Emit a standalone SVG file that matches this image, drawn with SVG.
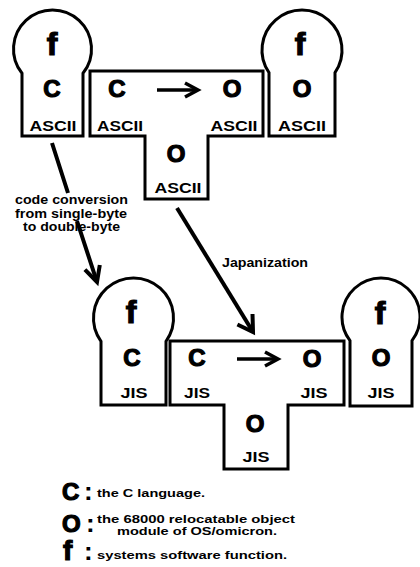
<svg xmlns="http://www.w3.org/2000/svg" width="420" height="567" viewBox="0 0 420 567">
<defs>
<style>
.shape{fill:none;stroke:#000;stroke-width:3;stroke-linejoin:miter}
.line{fill:none;stroke:#000;stroke-width:4;stroke-linecap:butt}
.head{fill:none;stroke:#000;stroke-width:4;stroke-linejoin:miter}
.sm{fill:none;stroke:#000;stroke-width:3.5}
text{font-family:"Liberation Sans",Arial,sans-serif;font-weight:bold;fill:#000}
.big{font-size:24px;text-anchor:middle;stroke:#000;stroke-width:1.2}
.ff{font-size:32px;text-anchor:middle;stroke:#000;stroke-width:1.2}
.lab{font-size:14px;text-anchor:middle}
.note{font-size:12px;text-anchor:middle}
.leg{font-size:11.5px}
.legL{font-size:24px;stroke:#000;stroke-width:1.2}
.col{font-size:26px}
</style>
</defs>
<rect width="420" height="567" fill="#fff"/>

<g id="connectors">
<path class="line" d="M52 143 L68 193 M77 221 L97 282"/>
<polyline class="head" points="84.9,269.6 97,282 99.8,265"/>
<path class="line" d="M177 208 L253 332"/>
<polyline class="head" points="237.4,324.5 253,332 252.5,314"/>
</g>

<g id="keyhole-top-left">
<path class="shape" d="M22 136 V73.3 A39 39 0 1 1 83 73.3 V136 Z"/>
<text class="ff" x="52" y="55">f</text>
<text class="big" x="52" y="97">C</text>
<text class="lab" x="53" y="131" textLength="47" lengthAdjust="spacingAndGlyphs">ASCII</text>
</g>

<g id="t-top">
<path class="shape" d="M90 71 H263 V136 H208 V199 H145 V136 H90 Z"/>
<text class="big" x="117" y="97">C</text>
<line class="sm" x1="157" y1="90" x2="197" y2="90"/>
<polyline class="sm" points="185,83 198,90 185,97"/>
<text class="big" x="232" y="97">O</text>
<text class="lab" x="120" y="131" textLength="46" lengthAdjust="spacingAndGlyphs">ASCII</text>
<text class="lab" x="234" y="131" textLength="47" lengthAdjust="spacingAndGlyphs">ASCII</text>
<text class="big" x="176" y="162">O</text>
<text class="lab" x="178" y="193" textLength="47" lengthAdjust="spacingAndGlyphs">ASCII</text>
</g>

<g id="keyhole-top-right">
<path class="shape" d="M269 136 V72.6 A40 40 0 1 1 335 72.6 V136 Z"/>
<text class="ff" x="300" y="55">f</text>
<text class="big" x="302" y="97">O</text>
<text class="lab" x="302" y="131" textLength="48" lengthAdjust="spacingAndGlyphs">ASCII</text>
</g>

<g id="label-conversion">
<text class="note" x="71.5" y="204" textLength="113" lengthAdjust="spacingAndGlyphs">code conversion</text>
<text class="note" x="71" y="218" textLength="112" lengthAdjust="spacingAndGlyphs">from single-byte</text>
<text class="note" x="71.5" y="231" textLength="97" lengthAdjust="spacingAndGlyphs">to double-byte</text>
</g>

<g id="label-japanization">
<text class="note" x="265" y="267" textLength="86" lengthAdjust="spacingAndGlyphs">Japanization</text>
</g>

<g id="keyhole-bottom-left">
<path class="shape" d="M101 405 V341.3 A40 40 0 1 1 166 341.3 V405 Z"/>
<text class="ff" x="131" y="323">f</text>
<text class="big" x="132" y="366">C</text>
<text class="lab" x="134" y="398" textLength="27" lengthAdjust="spacingAndGlyphs">JIS</text>
</g>

<g id="t-bottom">
<path class="shape" d="M170 341 H344 V405 H288 V469 H224 V405 H170 Z"/>
<text class="big" x="197" y="366">C</text>
<line class="sm" x1="237" y1="359" x2="277" y2="359"/>
<polyline class="sm" points="265,352 278,359 265,366"/>
<text class="big" x="312" y="367">O</text>
<text class="lab" x="197" y="398" textLength="26" lengthAdjust="spacingAndGlyphs">JIS</text>
<text class="lab" x="314" y="398" textLength="27" lengthAdjust="spacingAndGlyphs">JIS</text>
<text class="big" x="255" y="432">O</text>
<text class="lab" x="256" y="462" textLength="27" lengthAdjust="spacingAndGlyphs">JIS</text>
</g>

<g id="keyhole-bottom-right">
<path class="shape" d="M350 406 V340.7 A39 39 0 1 1 412 340.7 V406 Z"/>
<text class="ff" x="380" y="324">f</text>
<text class="big" x="381" y="366">O</text>
<text class="lab" x="381" y="398" textLength="27" lengthAdjust="spacingAndGlyphs">JIS</text>
</g>

<g id="legend">
<text class="legL" x="62" y="500">C</text>
<text class="col" x="84" y="500">:</text>
<text class="leg" x="97" y="497" textLength="108" lengthAdjust="spacingAndGlyphs">the C language.</text>
<text class="legL" x="62" y="532">O</text>
<text class="col" x="86" y="532">:</text>
<text class="leg" x="97" y="523" textLength="198" lengthAdjust="spacingAndGlyphs">the 68000 relocatable object</text>
<text class="leg" x="117" y="535" textLength="160" lengthAdjust="spacingAndGlyphs">module of OS/omicron.</text>
<text class="legL" x="63" y="560" style="font-size:28px">f</text>
<text class="col" x="84" y="560">:</text>
<text class="leg" x="97" y="559" textLength="190" lengthAdjust="spacingAndGlyphs">systems software function.</text>
</g>
</svg>
